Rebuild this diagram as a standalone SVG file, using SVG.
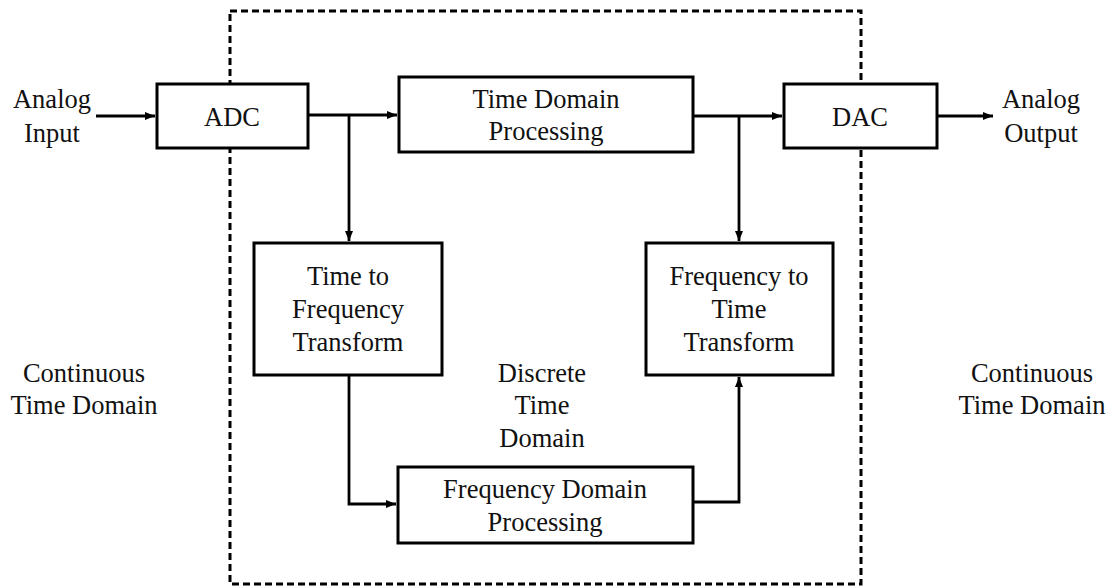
<svg xmlns="http://www.w3.org/2000/svg" width="1112" height="586" viewBox="0 0 1112 586">
<defs>
<marker id="ah" markerUnits="userSpaceOnUse" markerWidth="10" markerHeight="10" viewBox="0 0 10 10" refX="10" refY="5" orient="auto">
<path d="M0,1 L10,5 L0,9 Z" fill="#000"/>
</marker>
</defs>
<style>
.box{fill:#fff;stroke:#000;stroke-width:3}
.t{font-family:"Liberation Serif","Times New Roman",serif;font-size:26.5px;fill:#111;text-anchor:middle}
.c{fill:none;stroke:#000;stroke-width:2.8}
.dash{fill:none;stroke:#000;stroke-width:3;stroke-dasharray:7 4}
</style>
<rect width="1112" height="586" fill="#fff"/>
<g id="boundary"><rect class="dash" x="230" y="11" width="631" height="573"/></g>
<g id="connectors">
<line class="c" x1="96" y1="116" x2="155" y2="116" marker-end="url(#ah)"/>
<line class="c" x1="308" y1="115" x2="397" y2="115" marker-end="url(#ah)"/>
<polyline class="c" points="349,115 349,241" marker-end="url(#ah)"/>
<line class="c" x1="693" y1="116" x2="782" y2="116" marker-end="url(#ah)"/>
<polyline class="c" points="739,116 739,241" marker-end="url(#ah)"/>
<line class="c" x1="937" y1="116" x2="993" y2="116" marker-end="url(#ah)"/>
<polyline class="c" points="349,375 349,504 396,504" marker-end="url(#ah)"/>
<polyline class="c" points="693,502 739,502 739,377" marker-end="url(#ah)"/>
</g>
<g id="analog-input"><text class="t" x="52" y="108">Analog</text><text class="t" x="52" y="142">Input</text></g>
<g id="adc"><rect class="box" x="157" y="84" width="151" height="64"/><text class="t" x="232" y="126">ADC</text></g>
<g id="tdp"><rect class="box" x="399" y="77" width="294" height="75"/><text class="t" x="546" y="108">Time Domain</text><text class="t" x="546" y="140">Processing</text></g>
<g id="dac"><rect class="box" x="784" y="84" width="153" height="64"/><text class="t" x="860" y="126">DAC</text></g>
<g id="analog-output"><text class="t" x="1041" y="108">Analog</text><text class="t" x="1041" y="142">Output</text></g>
<g id="ttf"><rect class="box" x="254" y="243" width="188" height="132"/><text class="t" x="348" y="285">Time to</text><text class="t" x="348" y="318">Frequency</text><text class="t" x="348" y="351">Transform</text></g>
<g id="ftt"><rect class="box" x="646" y="243" width="187" height="132"/><text class="t" x="739" y="285">Frequency to</text><text class="t" x="739" y="318">Time</text><text class="t" x="739" y="351">Transform</text></g>
<g id="fdp"><rect class="box" x="398" y="467" width="295" height="76"/><text class="t" x="545" y="498">Frequency Domain</text><text class="t" x="545" y="531">Processing</text></g>
<g id="ctd-left"><text class="t" x="84" y="382">Continuous</text><text class="t" x="84" y="414">Time Domain</text></g>
<g id="dtd"><text class="t" x="542" y="382">Discrete</text><text class="t" x="542" y="414">Time</text><text class="t" x="542" y="447">Domain</text></g>
<g id="ctd-right"><text class="t" x="1032" y="382">Continuous</text><text class="t" x="1032" y="414">Time Domain</text></g>
</svg>
